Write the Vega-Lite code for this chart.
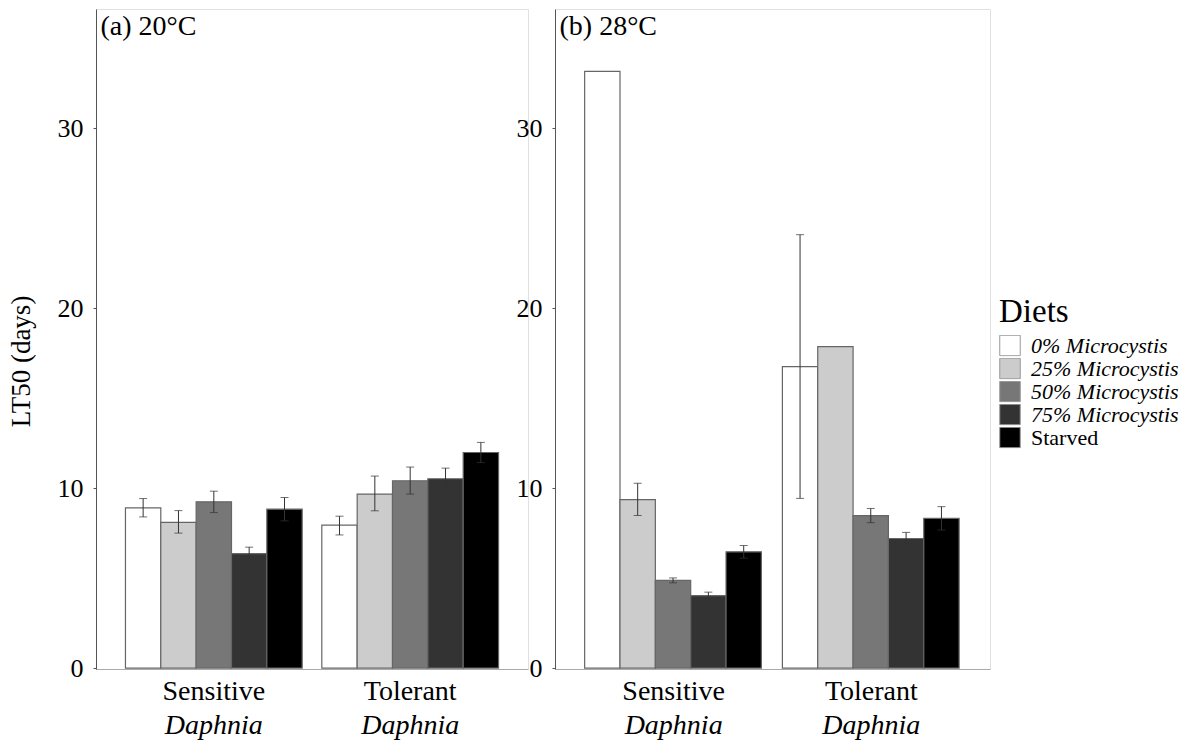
{
  "$schema": "https://vega.github.io/schema/vega-lite/v6.json",
  "background": "white",
  "padding": {"left": 6, "top": 8, "right": 5, "bottom": 0},
  "bounds": "flush",
  "spacing": 27,
  "data": {
    "values": [
      {"panel": "a", "strain": "Sensitive", "diet": "0% Microcystis", "lt50": 8.9, "lo": 8.4, "hi": 9.42},
      {"panel": "a", "strain": "Sensitive", "diet": "25% Microcystis", "lt50": 8.1, "lo": 7.5, "hi": 8.75},
      {"panel": "a", "strain": "Sensitive", "diet": "50% Microcystis", "lt50": 9.24, "lo": 8.64, "hi": 9.83},
      {"panel": "a", "strain": "Sensitive", "diet": "75% Microcystis", "lt50": 6.36, "lo": 6.0, "hi": 6.72},
      {"panel": "a", "strain": "Sensitive", "diet": "Starved", "lt50": 8.83, "lo": 8.18, "hi": 9.48},
      {"panel": "a", "strain": "Tolerant", "diet": "0% Microcystis", "lt50": 7.94, "lo": 7.4, "hi": 8.44},
      {"panel": "a", "strain": "Tolerant", "diet": "25% Microcystis", "lt50": 9.67, "lo": 8.74, "hi": 10.67},
      {"panel": "a", "strain": "Tolerant", "diet": "50% Microcystis", "lt50": 10.41, "lo": 9.67, "hi": 11.17},
      {"panel": "a", "strain": "Tolerant", "diet": "75% Microcystis", "lt50": 10.52, "lo": 9.91, "hi": 11.11},
      {"panel": "a", "strain": "Tolerant", "diet": "Starved", "lt50": 11.98, "lo": 11.42, "hi": 12.54},
      {"panel": "b", "strain": "Sensitive", "diet": "0% Microcystis", "lt50": 33.15, "lo": null, "hi": null},
      {"panel": "b", "strain": "Sensitive", "diet": "25% Microcystis", "lt50": 9.36, "lo": 8.48, "hi": 10.27},
      {"panel": "b", "strain": "Sensitive", "diet": "50% Microcystis", "lt50": 4.87, "lo": 4.74, "hi": 5.01},
      {"panel": "b", "strain": "Sensitive", "diet": "75% Microcystis", "lt50": 4.03, "lo": 3.79, "hi": 4.22},
      {"panel": "b", "strain": "Sensitive", "diet": "Starved", "lt50": 6.46, "lo": 6.11, "hi": 6.81},
      {"panel": "b", "strain": "Tolerant", "diet": "0% Microcystis", "lt50": 16.75, "lo": 9.43, "hi": 24.08},
      {"panel": "b", "strain": "Tolerant", "diet": "25% Microcystis", "lt50": 17.86, "lo": null, "hi": null},
      {"panel": "b", "strain": "Tolerant", "diet": "50% Microcystis", "lt50": 8.47, "lo": 8.08, "hi": 8.87},
      {"panel": "b", "strain": "Tolerant", "diet": "75% Microcystis", "lt50": 7.2, "lo": 6.89, "hi": 7.54},
      {"panel": "b", "strain": "Tolerant", "diet": "Starved", "lt50": 8.32, "lo": 7.67, "hi": 8.97}
    ]
  },
  "hconcat": [
    {
      "width": 432,
      "height": 660,
      "transform": [{"filter": "datum.panel === 'a'"}],
      "layer": [
        {
          "mark": {"type": "bar", "stroke": "#666666", "strokeWidth": 1.2},
          "encoding": {
            "x": {"field": "strain", "type": "nominal", "sort": ["Sensitive", "Tolerant"],
                  "scale": {"paddingInner": 0.1, "paddingOuter": 0.15},
                  "axis": {"orient": "bottom", "title": null, "labelAngle": 0, "ticks": false, "domainColor": "#aaaaaa", "labelFontSize": 28, "labelPadding": 8}},
            "xOffset": {"field": "diet", "type": "nominal", "sort": ["0% Microcystis", "25% Microcystis", "50% Microcystis", "75% Microcystis", "Starved"]},
            "y": {"field": "lt50", "type": "quantitative",
                  "scale": {"domain": [-0.05, 36.62], "nice": false, "zero": false},
                  "axis": {"values": [0, 10, 20, 30], "title": "LT50 (days)", "titleY": 352, "titlePadding": 22, "titleFontSize": 27, "labelFontSize": 26, "labelPadding": 10, "tickSize": 3}},
            "fill": {"field": "diet", "type": "nominal",
                     "scale": {"domain": ["0% Microcystis", "25% Microcystis", "50% Microcystis", "75% Microcystis", "Starved"],
                               "range": ["#ffffff", "#cccccc", "#777777", "#333333", "#000000"]},
                     "legend": {"orient": "none", "legendX": 903, "legendY": 287, "title": "Diets", "titleFontSize": 33, "titleFontWeight": "normal", "titlePadding": 6,
                                "labelFontSize": 22, "labelOffset": 10, "symbolType": "square", "symbolSize": 420, "symbolStrokeColor": "#999999", "symbolStrokeWidth": 1, "rowPadding": 0, "clipHeight": 21,
                                "encode": {"labels": {"update": {"fontStyle": {"signal": "datum.label === 'Starved' ? 'normal' : 'italic'"}}}}}}
          }
        },
        {
          "transform": [{"filter": "datum.lo != null"}],
          "mark": {"type": "rule", "color": "#333333", "strokeWidth": 1},
          "encoding": {
            "x": {"field": "strain", "type": "nominal", "sort": ["Sensitive", "Tolerant"],
                  "axis": {"orient": "bottom", "labelAngle": 0, "ticks": false, "domain": false, "labelFontSize": 28, "labelFontStyle": "italic", "labelPadding": 42, "labelExpr": "'Daphnia'",
                           "title": "(a) 20°C", "titleX": 4, "titleY": -635, "titleAlign": "left", "titleBaseline": "alphabetic", "titleAngle": 0, "titleFontSize": 28}},
            "xOffset": {"field": "diet", "type": "nominal", "sort": ["0% Microcystis", "25% Microcystis", "50% Microcystis", "75% Microcystis", "Starved"]},
            "y": {"field": "lo", "type": "quantitative",
                  "axis": {"values": [0, 10, 20, 30], "title": "LT50 (days)", "titleY": 352, "titlePadding": 22, "titleFontSize": 27, "labelFontSize": 26, "labelPadding": 10, "tickSize": 3}},
            "y2": {"field": "hi"}
          }
        },
        {
          "transform": [{"filter": "datum.lo != null"}],
          "mark": {"type": "tick", "orient": "horizontal", "size": 8, "thickness": 1, "color": "#333333"},
          "encoding": {
            "x": {"field": "strain", "type": "nominal", "sort": ["Sensitive", "Tolerant"], "axis": null},
            "xOffset": {"field": "diet", "type": "nominal", "sort": ["0% Microcystis", "25% Microcystis", "50% Microcystis", "75% Microcystis", "Starved"]},
            "y": {"field": "lo", "type": "quantitative",
                  "axis": {"values": [0, 10, 20, 30], "title": "LT50 (days)", "titleY": 352, "titlePadding": 22, "titleFontSize": 27, "labelFontSize": 26, "labelPadding": 10, "tickSize": 3}}
          }
        },
        {
          "transform": [{"filter": "datum.hi != null"}],
          "mark": {"type": "tick", "orient": "horizontal", "size": 8, "thickness": 1, "color": "#333333"},
          "encoding": {
            "x": {"field": "strain", "type": "nominal", "sort": ["Sensitive", "Tolerant"], "axis": null},
            "xOffset": {"field": "diet", "type": "nominal", "sort": ["0% Microcystis", "25% Microcystis", "50% Microcystis", "75% Microcystis", "Starved"]},
            "y": {"field": "hi", "type": "quantitative",
                  "axis": {"values": [0, 10, 20, 30], "title": "LT50 (days)", "titleY": 352, "titlePadding": 22, "titleFontSize": 27, "labelFontSize": 26, "labelPadding": 10, "tickSize": 3}}
          }
        }
      ],
      "resolve": {"axis": {"x": "independent"}}
    },
    {
      "width": 435,
      "height": 660,
      "transform": [{"filter": "datum.panel === 'b'"}],
      "layer": [
        {
          "mark": {"type": "bar", "stroke": "#666666", "strokeWidth": 1.2},
          "encoding": {
            "x": {"field": "strain", "type": "nominal", "sort": ["Sensitive", "Tolerant"],
                  "scale": {"paddingInner": 0.1, "paddingOuter": 0.15},
                  "axis": {"orient": "bottom", "title": null, "labelAngle": 0, "ticks": false, "domainColor": "#aaaaaa", "labelFontSize": 28, "labelPadding": 8}},
            "xOffset": {"field": "diet", "type": "nominal", "sort": ["0% Microcystis", "25% Microcystis", "50% Microcystis", "75% Microcystis", "Starved"]},
            "y": {"field": "lt50", "type": "quantitative",
                  "scale": {"domain": [-0.05, 36.62], "nice": false, "zero": false},
                  "axis": {"values": [0, 10, 20, 30], "title": null, "labelFontSize": 26, "labelPadding": 10, "tickSize": 3}},
            "fill": {"field": "diet", "type": "nominal"}
          }
        },
        {
          "transform": [{"filter": "datum.lo != null"}],
          "mark": {"type": "rule", "color": "#333333", "strokeWidth": 1},
          "encoding": {
            "x": {"field": "strain", "type": "nominal", "sort": ["Sensitive", "Tolerant"],
                  "axis": {"orient": "bottom", "labelAngle": 0, "ticks": false, "domain": false, "labelFontSize": 28, "labelFontStyle": "italic", "labelPadding": 42, "labelExpr": "'Daphnia'",
                           "title": "(b) 28°C", "titleX": 4, "titleY": -635, "titleAlign": "left", "titleBaseline": "alphabetic", "titleAngle": 0, "titleFontSize": 28}},
            "xOffset": {"field": "diet", "type": "nominal", "sort": ["0% Microcystis", "25% Microcystis", "50% Microcystis", "75% Microcystis", "Starved"]},
            "y": {"field": "lo", "type": "quantitative",
                  "axis": {"values": [0, 10, 20, 30], "title": null, "labelFontSize": 26, "labelPadding": 10, "tickSize": 3}},
            "y2": {"field": "hi"}
          }
        },
        {
          "transform": [{"filter": "datum.lo != null"}],
          "mark": {"type": "tick", "orient": "horizontal", "size": 8, "thickness": 1, "color": "#333333"},
          "encoding": {
            "x": {"field": "strain", "type": "nominal", "sort": ["Sensitive", "Tolerant"], "axis": null},
            "xOffset": {"field": "diet", "type": "nominal", "sort": ["0% Microcystis", "25% Microcystis", "50% Microcystis", "75% Microcystis", "Starved"]},
            "y": {"field": "lo", "type": "quantitative",
                  "axis": {"values": [0, 10, 20, 30], "title": null, "labelFontSize": 26, "labelPadding": 10, "tickSize": 3}}
          }
        },
        {
          "transform": [{"filter": "datum.hi != null"}],
          "mark": {"type": "tick", "orient": "horizontal", "size": 8, "thickness": 1, "color": "#333333"},
          "encoding": {
            "x": {"field": "strain", "type": "nominal", "sort": ["Sensitive", "Tolerant"], "axis": null},
            "xOffset": {"field": "diet", "type": "nominal", "sort": ["0% Microcystis", "25% Microcystis", "50% Microcystis", "75% Microcystis", "Starved"]},
            "y": {"field": "hi", "type": "quantitative",
                  "axis": {"values": [0, 10, 20, 30], "title": null, "labelFontSize": 26, "labelPadding": 10, "tickSize": 3}}
          }
        }
      ],
      "resolve": {"axis": {"x": "independent"}}
    }
  ],
  "config": {
    "font": "Liberation Serif",
    "view": {"stroke": "#e0e0e0", "strokeWidth": 1},
    "axis": {"labelColor": "#000000", "titleColor": "#000000", "titleFontWeight": "normal", "domainColor": "#555555", "tickColor": "#555555", "grid": false, "labelFont": "Liberation Serif", "titleFont": "Liberation Serif"},
    "legend": {"labelFont": "Liberation Serif", "titleFont": "Liberation Serif", "labelColor": "#000000", "titleColor": "#000000"}
  }
}
